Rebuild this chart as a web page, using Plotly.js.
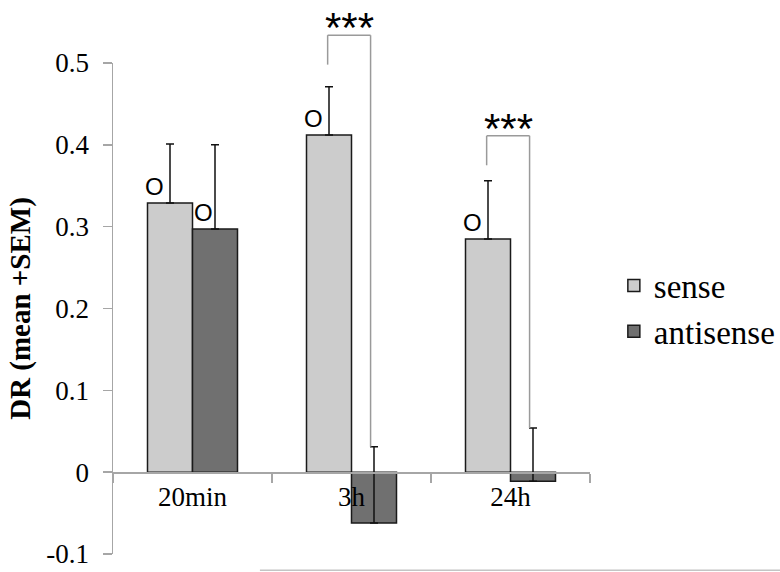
<!DOCTYPE html>
<html>
<head>
<meta charset="utf-8">
<script src="https://cdn.plot.ly/plotly-3.0.1.min.js"></script>
<style>html,body{margin:0;padding:0;background:#fff;}#chart{width:780px;height:572px;}</style>
</head>
<body>
<div id="chart"></div>
<script>
// ---- data ----
var categories = ['20min', '3h', '24h'];
var senseValues = [0.329, 0.412, 0.285];
var senseErr = [0.072, 0.059, 0.071];
var antisenseValues = [0.297, -0.062, -0.011];
var antisenseErr = [0.103, 0.093, 0.065];
var senseMarks = ['O', 'O', 'O'];
var antisenseMarks = ['O', '', ''];
var sigLabels = ['', '***', '***'];
var yTickVals = [-0.1, 0, 0.1, 0.2, 0.3, 0.4, 0.5];
var yTickText = ['-0.1', '0', '0.1', '0.2', '0.3', '0.4', '0.5'];

// ---- layout helpers ----
var yMin = -0.1, yMax = 0.5;
function toPaper(v) { return (v - yMin) / (yMax - yMin); }

var serif = '"Liberation Serif", "Times New Roman", serif';
var sans = '"Liberation Sans", Arial, sans-serif';

var traces = [
  {
    type: 'bar', name: 'sense', x: categories, y: senseValues,
    marker: {color: '#cccccc', line: {color: '#1a1a1a', width: 1.5}},
    error_y: {type: 'data', symmetric: false, array: senseErr,
              arrayminus: senseErr.map(function () { return 0; }),
              color: '#111', thickness: 1.5, width: 4}
  },
  {
    type: 'bar', name: 'antisense', x: categories, y: antisenseValues,
    marker: {color: '#707070', line: {color: '#1a1a1a', width: 1.5}},
    error_y: {type: 'data', symmetric: false, array: antisenseErr,
              arrayminus: antisenseErr.map(function () { return 0; }),
              color: '#111', thickness: 1.5, width: 4}
  }
];

var annotations = [];
var shapes = [];
var bracketTop = [null, 0.534, 0.411];
categories.forEach(function (c, i) {
  if (senseMarks[i]) annotations.push({x: i - 0.24, y: senseValues[i] + 0.02, xref: 'x', yref: 'y',
    text: senseMarks[i], showarrow: false, yanchor: 'middle', xanchor: 'center',
    font: {family: sans, size: 24, color: '#000'}});
  if (antisenseMarks[i]) annotations.push({x: i + 0.07, y: antisenseValues[i] + 0.02, xref: 'x', yref: 'y',
    text: antisenseMarks[i], showarrow: false, yanchor: 'middle', xanchor: 'center',
    font: {family: sans, size: 24, color: '#000'}});
  if (sigLabels[i]) {
    var top = bracketTop[i];
    var xl = i - 0.15, xr = i + 0.12;
    var lineStyle = {color: '#9a9a9a', width: 1.5};
    shapes.push({type: 'line', xref: 'x', yref: 'paper', x0: xl, x1: xl, y0: toPaper(top), y1: toPaper(top - 0.036), line: lineStyle});
    shapes.push({type: 'line', xref: 'x', yref: 'paper', x0: xl, x1: xr, y0: toPaper(top), y1: toPaper(top), line: lineStyle});
    shapes.push({type: 'line', xref: 'x', yref: 'paper', x0: xr, x1: xr, y0: toPaper(top), y1: toPaper(antisenseValues[i] + antisenseErr[i]), line: lineStyle});
    annotations.push({x: i - 0.01, y: toPaper(top + 0.009), xref: 'x', yref: 'paper',
      text: sigLabels[i], showarrow: false, yanchor: 'middle', xanchor: 'center',
      font: {family: sans, size: 42, color: '#000'}});
  }
});
// faint line along the bottom edge of the picture
shapes.push({type: 'line', xref: 'paper', yref: 'paper', x0: 0.308, x1: 1.42, y0: -0.033, y1: -0.033,
  line: {color: '#c4c4c4', width: 1.5}});

var layout = {
  width: 780, height: 572,
  margin: {l: 113, r: 190, t: 63, b: 18, autoexpand: false},
  paper_bgcolor: '#fff', plot_bgcolor: '#fff',
  barmode: 'group', bargap: 0.434, bargroupgap: 0,
  showlegend: true,
  legend: {x: 1.05, y: 0.5, xanchor: 'left', yanchor: 'middle',
           font: {family: serif, size: 33, color: '#000'}, tracegroupgap: 0, itemwidth: 30},
  xaxis: {
    type: 'category', anchor: 'free', position: toPaper(0),
    range: [-0.5, 2.5], showgrid: false, zeroline: false,
    showline: true, linecolor: '#a6a6a6', linewidth: 1.5,
    ticks: 'outside', tickson: 'boundaries', ticklen: 9, tickcolor: '#a6a6a6', tickwidth: 1.5,
    tickfont: {family: serif, size: 27, color: '#000'}, fixedrange: true
  },
  yaxis: {
    domain: [0, 1], range: [yMin, yMax], showgrid: false, zeroline: false,
    showline: true, linecolor: '#a6a6a6', linewidth: 1.5,
    ticks: 'outside', ticklen: 9, tickcolor: '#a6a6a6', tickwidth: 1.5,
    tickvals: yTickVals, ticktext: yTickText, ticklabelstandoff: 8,
    tickfont: {family: serif, size: 27, color: '#000'},
    title: {text: '<b>DR (mean +SEM)</b>', font: {family: serif, size: 29, color: '#000'}, standoff: 7},
    fixedrange: true
  },
  annotations: annotations,
  shapes: shapes
};

Plotly.newPlot('chart', traces, layout, {displayModeBar: false, staticPlot: true});
</script>
</body>
</html>
